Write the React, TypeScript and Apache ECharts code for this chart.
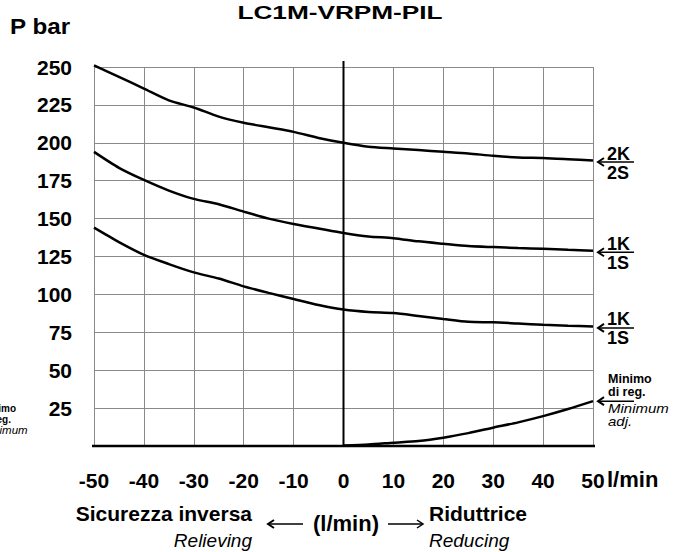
import React, { useEffect, useRef } from "react";
import * as echarts from "echarts";

const flow = [-50, -45, -40, -35, -30, -25, -20, -15, -10, -5, 0, 5, 10, 15, 20, 25, 30, 35, 40, 45, 50];
const p2K = [251, 243.5, 235.8, 228, 223.3, 217.3, 213.2, 210.2, 207.2, 203.2, 200, 197.4, 196.3, 195.2, 194.1, 193, 191.4, 190.3, 190, 189.2, 188.3];
const p1KUpper = [194, 183.5, 175.5, 168.5, 163, 159.5, 154.6, 150, 146.5, 143.5, 140.5, 138.2, 137.1, 135, 133.4, 131.9, 131.2, 130.6, 130.1, 129.4, 128.8];
const p1KLower = [144, 134.5, 126.1, 120, 114.5, 110.5, 105.3, 101, 97, 93, 90, 88.4, 87.7, 85.8, 83.8, 81.9, 81.6, 80.8, 80, 79.4, 78.9];
const flowMin = [0, 5, 10, 15, 20, 25, 30, 35, 40, 45, 50];
const pMin = [0.4, 1, 2.2, 3.3, 5.5, 8.5, 12.1, 15.6, 19.7, 24.4, 29.6];

const zeroAxisLine = [[0, 0], [0, 254]];
const baseAxisLine = [[-52, 0], [52.8, 0]];

const curveLabels = [
  { top: "2K", bottom: "2S" },
  { top: "1K", bottom: "1S" },
  { top: "1K", bottom: "1S" },
];

const FONT = '"Liberation Sans", Arial, sans-serif';

const pairs = (xs: number[], ys: number[]) => xs.map((x, i) => [x, ys[i]]);

function txt(
  text: string,
  x: number,
  y: number,
  size: number,
  opts: { weight?: string; style?: string; align?: string; scaleX?: number } = {}
) {
  return {
    type: "text",
    x,
    y,
    scaleX: opts.scaleX ?? 1,
    silent: true,
    style: {
      text,
      fill: "#000",
      fontSize: size,
      fontWeight: opts.weight ?? "bold",
      fontStyle: opts.style ?? "normal",
      fontFamily: FONT,
      textAlign: opts.align ?? "left",
      textVerticalAlign: "middle",
      align: opts.align ?? "left",
      verticalAlign: "middle",
    },
  };
}

function arrowLeft(x: number, y: number, len: number) {
  return [
    { type: "line", silent: true, shape: { x1: x, y1: y, x2: x + len, y2: y }, style: { stroke: "#000", lineWidth: 1.5 } },
    {
      type: "polyline",
      silent: true,
      shape: { points: [[x + 6, y - 4], [x, y], [x + 6, y + 4]] },
      style: { stroke: "#000", lineWidth: 2, fill: "none" },
    },
  ];
}

function arrowRight(x: number, y: number, len: number) {
  return [
    { type: "line", silent: true, shape: { x1: x, y1: y, x2: x + len, y2: y }, style: { stroke: "#000", lineWidth: 1.5 } },
    {
      type: "polyline",
      silent: true,
      shape: { points: [[x + len - 6, y - 4], [x + len, y], [x + len - 6, y + 4]] },
      style: { stroke: "#000", lineWidth: 1.5, fill: "none" },
    },
  ];
}

export default function App() {
  const ref = useRef<HTMLDivElement>(null);

  useEffect(() => {
    document.body.style.margin = "0";
    if (!ref.current) return;
    const chart = echarts.init(ref.current, null, { renderer: "svg" });

    const lineSeries = (data: number[][], width: number, clip: boolean) => ({
      type: "line",
      data,
      symbol: "none",
      smooth: 0.25,
      clip,
      silent: true,
      lineStyle: { color: "#000", width },
    });

    chart.setOption({
      animation: false,
      backgroundColor: "#fff",
      grid: { left: 94, right: 80, top: 67, bottom: 106 },
      xAxis: {
        type: "value",
        min: -50,
        max: 50,
        interval: 10,
        axisLine: { show: false },
        axisTick: { show: false },
        splitLine: { show: true, lineStyle: { color: "#8a8a8a", width: 1 } },
        axisLabel: { color: "#000", fontSize: 21, fontWeight: "bold", fontFamily: FONT, margin: 24 },
      },
      yAxis: {
        type: "value",
        min: 0,
        max: 250,
        interval: 25,
        axisLine: { show: false },
        axisTick: { show: false },
        splitLine: { show: true, lineStyle: { color: "#8a8a8a", width: 1 } },
        axisLabel: {
          color: "#000",
          fontSize: 21,
          fontWeight: "bold",
          fontFamily: FONT,
          margin: 22,
          formatter: (v: number) => (v === 0 ? "" : String(v)),
        },
      },
      series: [
        { ...lineSeries(zeroAxisLine, 2, false), smooth: false },
        { ...lineSeries(baseAxisLine, 2.5, false), smooth: false },
        lineSeries(pairs(flow, p2K), 2.5, false),
        lineSeries(pairs(flow, p1KUpper), 2.5, false),
        lineSeries(pairs(flow, p1KLower), 2.5, false),
        lineSeries(pairs(flowMin, pMin), 2.5, false),
      ],
    });

    const toPx = (x: number, y: number) => chart.convertToPixel({ gridIndex: 0 }, [x, y]) as number[];
    const xEnd = toPx(50, 0)[0];
    const curves = [p2K, p1KUpper, p1KLower];
    const elements: any[] = [];

    curves.forEach((arr, i) => {
      const y = toPx(50, arr[arr.length - 1])[1] + 1.5;
      elements.push(...arrowLeft(xEnd + 5, y, 36));
      elements.push(txt(curveLabels[i].top, xEnd + 14, y - 8.5, 18));
      elements.push(txt(curveLabels[i].bottom, xEnd + 14, y + 10.5, 18));
    });

    const yMin = toPx(50, pMin[pMin.length - 1])[1];
    elements.push(...arrowLeft(xEnd + 5, yMin, 36));
    elements.push(txt("Minimo", xEnd + 15, yMin - 22, 12.5));
    elements.push(txt("di reg.", xEnd + 15, yMin - 9, 12.5));
    elements.push(txt("Minimum", xEnd + 15, yMin + 8, 12.5, { weight: "normal", style: "italic", scaleX: 1.2 }));
    elements.push(txt("adj.", xEnd + 15, yMin + 21, 12.5, { weight: "normal", style: "italic", scaleX: 1.2 }));

    // cut-off copy at the left edge (as in the reference)
    elements.push(txt("Minimo", -19, 408, 10));
    elements.push(txt("di reg.", -19, 419, 10));
    elements.push(txt("Minimum", -19, 430, 10, { weight: "normal", style: "italic", scaleX: 1.15 }));

    // title and axis titles
    elements.push(txt("LC1M-VRPM-PIL", 340, 12, 19, { align: "center", scaleX: 1.38 }));
    elements.push(txt("P bar", 10, 26, 22, { scaleX: 1.1 }));
    elements.push(txt("l/min", xEnd + 14, 479, 22));

    // bottom direction labels
    elements.push(txt("Sicurezza inversa", 252, 513, 21, { align: "right" }));
    elements.push(txt("Relieving", 252, 540, 19, { weight: "normal", style: "italic", align: "right" }));
    elements.push(txt("Riduttrice", 429, 513, 21));
    elements.push(txt("Reducing", 429, 540, 19, { weight: "normal", style: "italic" }));
    elements.push(txt("(l/min)", 346, 523, 22, { align: "center" }));
    elements.push(...arrowLeft(268, 524, 35));
    elements.push(...arrowRight(388, 524, 35));

    chart.setOption({ graphic: { elements } });

    return () => chart.dispose();
  }, []);

  return <div ref={ref} style={{ width: 673, height: 552 }} />;
}
